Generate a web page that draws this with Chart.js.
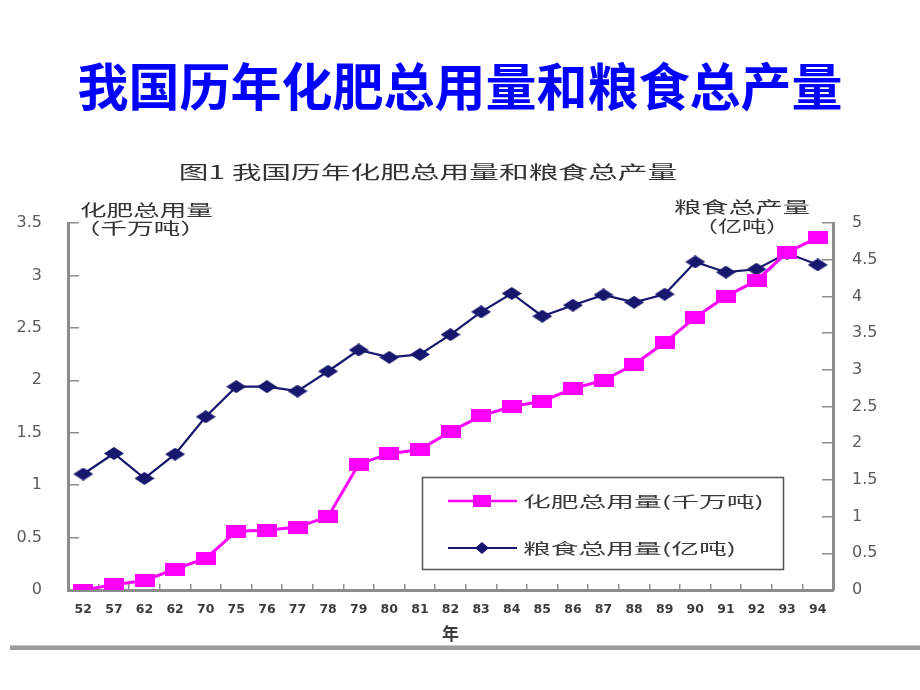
<!DOCTYPE html>
<html>
<head>
<meta charset="UTF-8">
<title>我国历年化肥总用量和粮食总产量</title>
<script src="https://cdn.jsdelivr.net/npm/chart.js"></script>
<style>
    body {
        margin: 0;
        background: #fff;
        width: 920px;
        height: 690px;
        overflow: hidden;
        position: relative;
    }
    .page-title {
        position: absolute;
        left: 0;
        top: 56px;
        width: 920px;
        text-align: center;
        font-family: "Noto Sans CJK SC", sans-serif;
        font-weight: bold;
        font-size: 51px;
        line-height: 56px;
        color: #0000ff;
        margin: 0;
    }
    #chart {
        position: absolute;
        left: 0;
        top: 0;
    }
    .bottom-rule {
        position: absolute;
        left: 10px;
        top: 645px;
        width: 910px;
        height: 4px;
        background: #9c9c9c;
        border-top: 1px solid #c8c8c8;
    }
</style>
</head>
<body>
<h1 class="page-title">我国历年化肥总用量和粮食总产量</h1>
<canvas id="chart" width="920" height="690"></canvas>
<div class="bottom-rule"></div>

<script>
// 年份（横轴）
const years = ['52', '57', '62', '62', '70', '75', '76', '77', '78', '79', '80', '81', '82',
               '83', '84', '85', '86', '87', '88', '89', '90', '91', '92', '93', '94'];
// 化肥总用量（千万吨），左轴
const fertilizer = [0, 0.05, 0.09, 0.2, 0.3, 0.56, 0.57, 0.6, 0.7, 1.2, 1.3, 1.34, 1.51,
                    1.66, 1.75, 1.8, 1.92, 2.0, 2.15, 2.36, 2.6, 2.8, 2.95, 3.22, 3.36];
// 粮食总产量（亿吨），右轴
const grain = [1.58, 1.86, 1.52, 1.85, 2.36, 2.77, 2.77, 2.71, 2.98, 3.27, 3.17, 3.21, 3.48,
               3.79, 4.04, 3.73, 3.88, 4.02, 3.92, 4.03, 4.47, 4.33, 4.37, 4.59, 4.43];
// 轴范围
const leftMax = 3.5;
const rightMax = 5;

const PINK = '#ff00ff';
const NAVY = '#17176e';
const CJK = '"Noto Sans CJK SC", sans-serif';

// 点的形状：方块和菱形（原图横向拉伸，所以宽一些）
function makeRect(w, h, color) {
    const c = document.createElement('canvas');
    c.width = w; c.height = h;
    const g = c.getContext('2d');
    g.fillStyle = color;
    g.fillRect(0, 0, w, h);
    return c;
}
function makeDiamond(w, h, color) {
    const c = document.createElement('canvas');
    c.width = w; c.height = h;
    const g = c.getContext('2d');
    g.fillStyle = color;
    g.beginPath();
    g.moveTo(w / 2, 0);
    g.lineTo(w, h / 2);
    g.lineTo(w / 2, h);
    g.lineTo(0, h / 2);
    g.closePath();
    g.fill();
    return c;
}

// 横向拉伸的文字
function wideText(ctx, str, x, y, sx, align) {
    ctx.save();
    ctx.translate(x, y);
    ctx.scale(sx, 1);
    ctx.textAlign = align;
    ctx.textBaseline = 'middle';
    ctx.fillText(str, 0, 0);
    ctx.restore();
}

// 图题、轴标题和图例
const extraText = {
    id: 'extraText',
    afterDraw(chart) {
        const ctx = chart.ctx;
        ctx.save();
        ctx.fillStyle = '#333';
        ctx.font = '18px ' + CJK;
        wideText(ctx, '图1 我国历年化肥总用量和粮食总产量', 428, 172, 1.65, 'center');

        ctx.font = '16px ' + CJK;
        wideText(ctx, '化肥总用量', 80, 210, 1.66, 'left');
        wideText(ctx, '（千万吨）', 74, 228, 1.66, 'left');
        wideText(ctx, '粮食总产量', 742, 207, 1.7, 'center');
        wideText(ctx, '（亿吨）', 742, 226, 1.5, 'center');

        // 图例
        ctx.strokeStyle = '#555';
        ctx.lineWidth = 1.5;
        ctx.strokeRect(422.5, 477.5, 361, 92);

        const rows = [
            { label: '化肥总用量(千万吨)', color: PINK, y: 501, mark: makeRect(18, 12, PINK), lw: 2.5 },
            { label: '粮食总用量(亿吨)', color: NAVY, y: 548, mark: makeDiamond(14, 12, NAVY), lw: 2 }
        ];
        rows.forEach(r => {
            ctx.strokeStyle = r.color;
            ctx.lineWidth = r.lw;
            ctx.beginPath();
            ctx.moveTo(448, r.y);
            ctx.lineTo(517, r.y);
            ctx.stroke();
            ctx.drawImage(r.mark, 482 - r.mark.width / 2, r.y - r.mark.height / 2);
            ctx.fillStyle = '#3a3a3a';
            ctx.font = '15px ' + CJK;
            wideText(ctx, r.label, 523, r.y, 1.85, 'left');
        });
        ctx.restore();
    }
};

const axisGrey = '#8c8c8c';
const tickFont = { family: '"DejaVu Sans", sans-serif', size: 16 };
// 刻度值去掉多余的 ".0"
const plainNum = v => String(Math.round(v * 10) / 10);

new Chart(document.getElementById('chart'), {
    type: 'line',
    data: {
        labels: years,
        datasets: [
            {
                label: '化肥总用量(千万吨)',
                data: fertilizer,
                yAxisID: 'y',
                borderColor: PINK,
                backgroundColor: PINK,
                borderWidth: 3,
                pointStyle: makeRect(20, 13, PINK),
                tension: 0
            },
            {
                label: '粮食总用量(亿吨)',
                data: grain,
                yAxisID: 'y1',
                borderColor: NAVY,
                backgroundColor: NAVY,
                borderWidth: 2.2,
                pointStyle: makeDiamond(20, 13, NAVY),
                tension: 0
            }
        ]
    },
    options: {
        responsive: false,
        animation: false,
        devicePixelRatio: 1,
        layout: { padding: { top: 223, bottom: 45, left: 0, right: 0 } },
        plugins: {
            legend: { display: false },
            tooltip: { enabled: false }
        },
        scales: {
            x: {
                offset: true,
                grid: { offset: true, drawOnChartArea: false, tickLength: -6, color: axisGrey, lineWidth: 1.5 },
                border: { color: axisGrey, width: 3 },
                ticks: {
                    autoSkip: false,
                    maxRotation: 0,
                    padding: 18,
                    color: '#3c3c3c',
                    font: { family: '"DejaVu Sans", sans-serif', size: 12.5, weight: 'bold' }
                },
                title: {
                    display: true,
                    text: '年',
                    color: '#3c3c3c',
                    font: { family: CJK, size: 17, weight: 'bold' },
                    padding: { top: 0, bottom: 1 }
                },
                afterFit: s => { s.height = 55; }
            },
            y: {
                position: 'left',
                min: 0,
                max: leftMax,
                grid: { drawOnChartArea: false, tickLength: -11, color: axisGrey, lineWidth: 1.5 },
                border: { color: axisGrey, width: 3 },
                ticks: { stepSize: 0.5, padding: 37, color: '#5a5a5a', font: tickFont, callback: plainNum },
                afterFit: s => { s.width = 68; }
            },
            y1: {
                position: 'right',
                min: 0,
                max: rightMax,
                grid: { drawOnChartArea: false, tickLength: -11, color: axisGrey, lineWidth: 1.5 },
                border: { color: axisGrey, width: 3 },
                ticks: { stepSize: 0.5, padding: 30, color: '#5a5a5a', font: tickFont, callback: plainNum },
                afterFit: s => { s.width = 87; }
            }
        }
    },
    plugins: [extraText]
});
</script>
</body>
</html>
